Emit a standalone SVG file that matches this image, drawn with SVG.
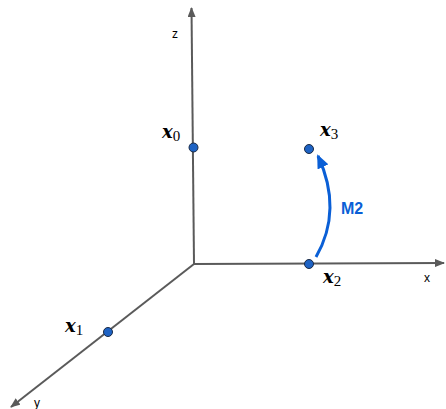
<svg xmlns="http://www.w3.org/2000/svg" width="446" height="409" viewBox="0 0 446 409">
<style>
.axis{stroke:#5a5a5a;stroke-width:2;fill:none}
.lbl{font-family:"Liberation Sans",Arial,sans-serif;font-size:12px;fill:#000}
.m{font-family:"DejaVu Serif","Liberation Serif",serif;font-style:italic;font-weight:bold;font-size:18px;fill:#000}
.sub{font-family:"Liberation Serif",serif;font-style:normal;font-weight:normal;font-size:15px}
.dot{fill:#1e63c4;stroke:#1a2a44;stroke-width:1}
</style>
<defs>
<marker id="ah" markerWidth="10" markerHeight="8" refX="9" refY="4" orient="auto" markerUnits="userSpaceOnUse" viewBox="0 0 10 8">
<path d="M0,0 L10,4 L0,8 Z" fill="#5a5a5a"/>
</marker>
<marker id="bh" markerWidth="14" markerHeight="12" refX="12" refY="6" orient="auto" markerUnits="userSpaceOnUse" viewBox="0 0 14 12">
<path d="M0,0 L14,6 L0,12 Z" fill="#0a5fd6"/>
</marker>
</defs>
<g id="connectors">
<line class="axis" x1="194" y1="264" x2="191.5" y2="8" marker-end="url(#ah)"/>
<line class="axis" x1="194" y1="264" x2="444" y2="263" marker-end="url(#ah)"/>
<line class="axis" x1="194" y1="264" x2="11" y2="407" marker-end="url(#ah)"/>
<path d="M316,257 Q343,210 318,156" fill="none" stroke="#0a5fd6" stroke-width="3" marker-end="url(#bh)"/>
</g>
<g id="axis-labels">
<text class="lbl" x="172" y="38">z</text>
<text class="lbl" x="424" y="282">x</text>
<text class="lbl" x="34" y="407">y</text>
</g>
<g id="x0">
<circle class="dot" cx="193.5" cy="147.5" r="4.5"/>
<text class="m" x="162" y="138">x<tspan class="sub" dy="3">0</tspan></text>
</g>
<g id="x1">
<circle class="dot" cx="108" cy="332" r="4.5"/>
<text class="m" x="65" y="332">x<tspan class="sub" dy="3">1</tspan></text>
</g>
<g id="x2">
<circle class="dot" cx="309" cy="264" r="4.5"/>
<text class="m" x="323" y="283">x<tspan class="sub" dy="3">2</tspan></text>
</g>
<g id="x3">
<circle class="dot" cx="309" cy="149" r="4.5"/>
<text class="m" x="320" y="136">x<tspan class="sub" dy="3">3</tspan></text>
</g>
<g id="M2">
<text x="341" y="214" font-family="Liberation Sans,Arial,sans-serif" font-weight="bold" font-size="16" fill="#0a5fd6">M2</text>
</g>
</svg>
